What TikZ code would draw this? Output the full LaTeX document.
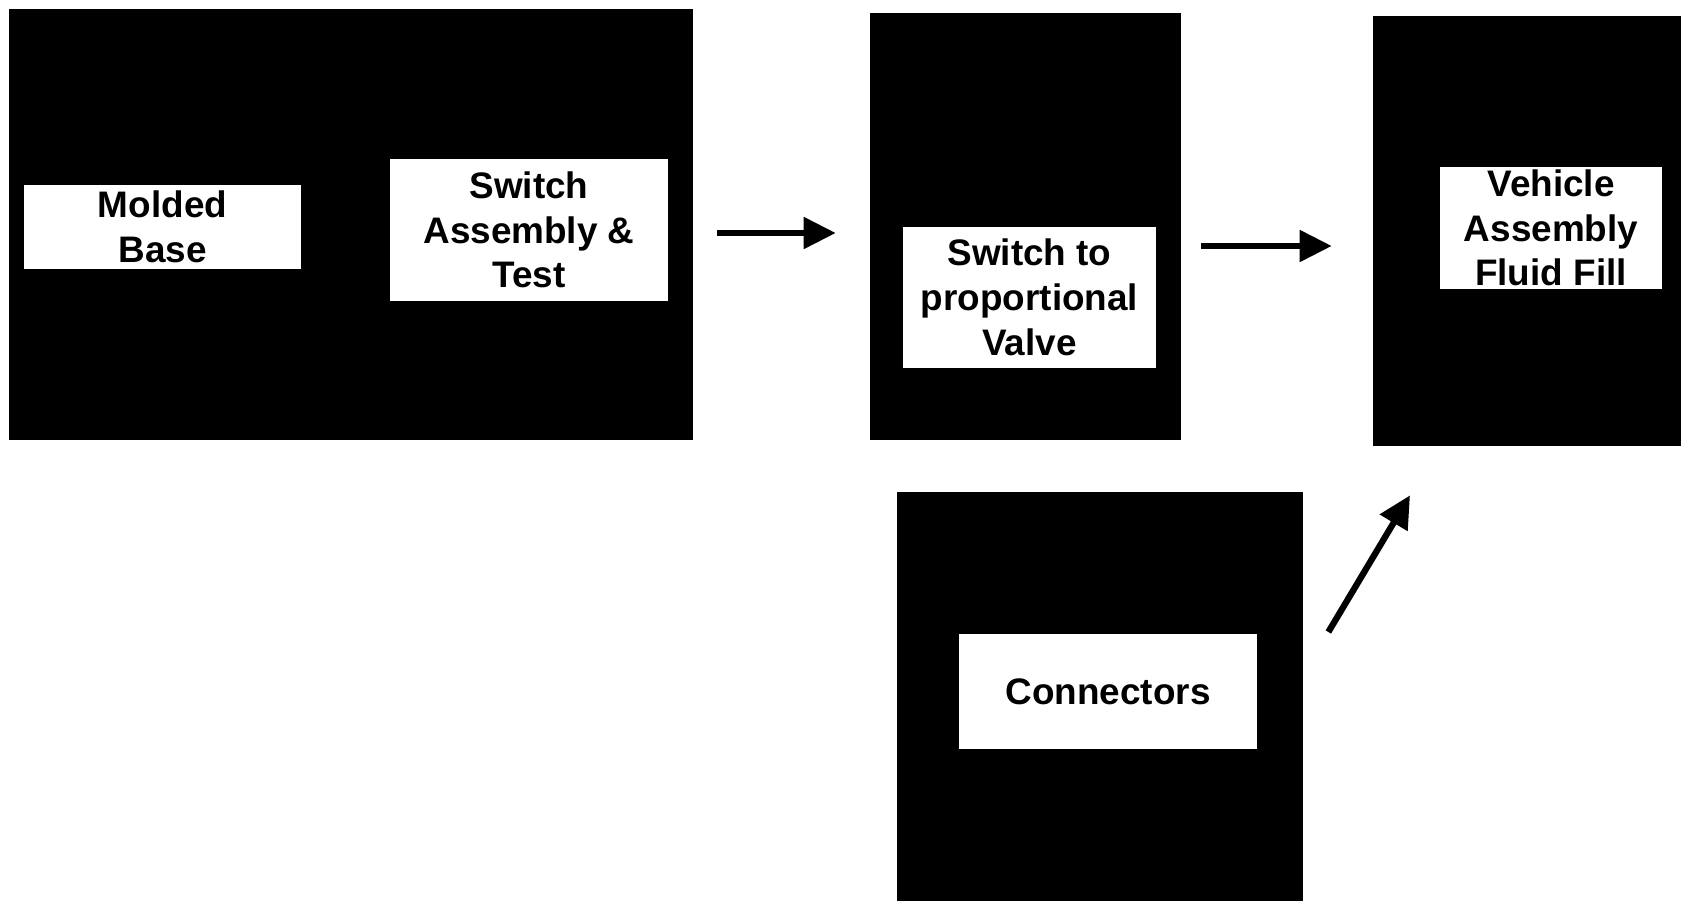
\documentclass[tikz,border=0pt]{standalone}
\usepackage{fontspec}
\setmainfont{Liberation Sans}
\usepackage{tikz}
\usetikzlibrary{arrows.meta}

\begin{document}
\begin{tikzpicture}[
  font=\fontsize{21}{25.5}\selectfont\bfseries,
  bloque/.style={fill=black, draw=none, inner sep=0pt},
  caja/.style={fill=white, draw=none, align=center, inner sep=0pt},
  flecha/.style={-{Triangle[length=0.64cm, width=0.62cm]}, line width=3pt}
]
  \useasboundingbox (0,0) rectangle (33.68,-18.02);
  % bloques negros
  \node[bloque, minimum width=13.68cm, minimum height=8.62cm] (grp) at (7.02,-4.49) {};
  \node[bloque, minimum width=6.22cm, minimum height=8.54cm] (midblk) at (20.51,-4.53) {};
  \node[bloque, minimum width=6.16cm, minimum height=8.60cm] (vehblk) at (30.54,-4.62) {};
  \node[bloque, minimum width=8.12cm, minimum height=8.18cm] (connblk) at (22.00,-13.93) {};
  % cajas blancas
  \node[caja, minimum width=5.54cm, minimum height=1.68cm] (molded) at (3.25,-4.54) {Molded\\Base};
  \node[caja, minimum width=5.56cm, minimum height=2.84cm] (swasm) at (10.58,-4.60) {Switch\\Assembly \&\\Test};
  \node[caja, minimum width=5.06cm, minimum height=2.82cm] (valve) at (20.59,-5.95) {Switch to\\proportional\\Valve};
  \node[caja, minimum width=4.44cm, minimum height=2.44cm] (vehicle) at (31.02,-4.56) {Vehicle\\Assembly\\Fluid Fill};
  \node[caja, minimum width=5.96cm, minimum height=2.30cm] (conn) at (22.16,-13.83) {Connectors};
  % flechas
  \draw[flecha] ([xshift=0.48cm, yshift=-0.17cm]grp.east) -- ([xshift=-0.68cm, yshift=-0.13cm]midblk.west);
  \draw[flecha] ([xshift=0.40cm, yshift=-0.39cm]midblk.east) -- ([xshift=-0.82cm, yshift=-0.30cm]vehblk.west);
  \draw[flecha, line width=3.6pt] ([xshift=0.50cm, yshift=1.29cm]connblk.east) -- ([xshift=-2.34cm, yshift=-0.98cm]vehblk.south);
\end{tikzpicture}
\end{document}
